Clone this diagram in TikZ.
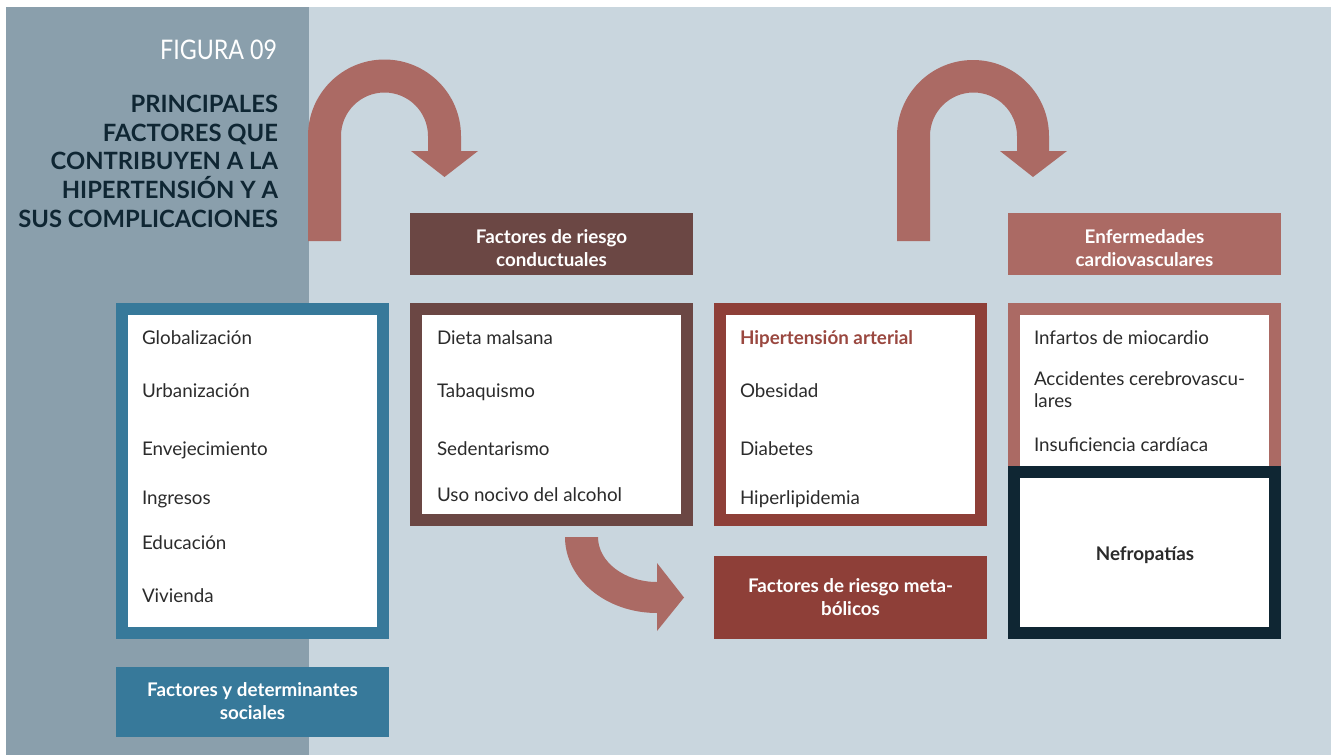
\documentclass[tikz,border=0pt]{standalone}
\usepackage{fontspec}
\setmainfont{Lato}
\usepackage{graphicx}
\definecolor{panel}{HTML}{8A9FAC}
\definecolor{bgl}{HTML}{C9D6DE}
\definecolor{cblue}{HTML}{37799A}
\definecolor{cbrown}{HTML}{6B4744}
\definecolor{cred}{HTML}{8E3F38}
\definecolor{cpink}{HTML}{AB6A64}
\definecolor{cdark}{HTML}{0F2633}
\definecolor{ctext}{HTML}{2B2B2B}
\definecolor{chyp}{HTML}{9A4840}
\begin{document}
\begin{tikzpicture}[x=1pt,y=-1pt,
  every node/.style={inner sep=0pt, outer sep=0pt},
  frame/.style={draw=#1, line width=12pt, fill=white, minimum width=261pt, anchor=north west},
  labelbox/.style={fill=#1, anchor=north west, minimum width=273pt},
  labeltext/.style={text=white, align=center, font=\fontsize{18.8}{23}\selectfont\bfseries},
  item/.style={anchor=west, text=ctext, font=\fontsize{18.8}{22}\selectfont, align=left, text height=12pt, text depth=3pt},
  bigarrow/.style={fill=cpink, draw=none}]
\useasboundingbox (0,0) rectangle (1331,755);
% backgrounds
\fill[white] (0,0) rectangle (1331,755);
\fill[panel] (6,7) rectangle (309,755);
\fill[bgl] (309,7) rectangle (1331,755);

% title
\node[anchor=north east, text=white] (fig) at (277,40)
  {\scalebox{0.86}[1]{\fontsize{27}{27}\selectfont FIGURA 09}};
\node[anchor=north east, align=right, text=cdark, font=\fontsize{23.8}{28.7}\selectfont\bfseries] (title) at (278,95)
  {PRINCIPALES\\FACTORES QUE\\CONTRIBUYEN A LA\\HIPERTENSIÓN Y A\\SUS COMPLICACIONES};

% arrows
\path[bigarrow] (308,241) -- (308,136) arc[start angle=180, end angle=0, radius=76.5pt]
  -- (461,151) -- (478,151) -- (444.5,177) -- (411,151) -- (428,151) -- (428,136)
  arc[start angle=0, end angle=180, radius=43.5pt] -- (341,241) -- cycle;
\path[bigarrow] (897,241) -- (897,136) arc[start angle=180, end angle=0, radius=76pt]
  -- (1049,151) -- (1067,151) -- (1033,177) -- (1000,151) -- (1017,151) -- (1017,136)
  arc[start angle=0, end angle=180, radius=43.5pt] -- (930,241) -- cycle;
\path[bigarrow] (565,537) arc[start angle=180, end angle=270, x radius=92pt, y radius=76pt]
  -- (657,631) -- (684,597.5) -- (657,563) -- (657,582)
  arc[start angle=270, end angle=180, x radius=59pt, y radius=45pt] -- cycle;

% frames
\node[frame=cblue, minimum height=324pt] (soc) at (122,309) {};
\node[frame=cbrown, minimum width=271pt, minimum height=211pt] (beh) at (416,309) {};
\node[frame=cred, minimum height=211pt] (met) at (720,309) {};
\node[frame=cpink, minimum height=163pt] (cvd) at (1014,309) {};
\node[frame=cdark, minimum height=161pt] (nef) at (1014,472) {};

% labels
\node[labelbox=cblue, minimum height=70pt] (socl) at (116,667) {};
\node[labeltext] (soclt) at ([yshift=1pt]socl.center) {Factores y determinantes\\sociales};
\node[labelbox=cbrown, minimum width=283pt, minimum height=62pt] (behl) at (410,213) {};
\node[labeltext] (behlt) at ([yshift=-4pt]behl.center) {Factores de riesgo\\conductuales};
\node[labelbox=cred, minimum height=83pt] (metl) at (714,556) {};
\node[labeltext] (metlt) at ([yshift=0pt]metl.center) {Factores de riesgo meta-\\bólicos};
\node[labelbox=cpink, minimum height=62pt] (cvdl) at (1008,213) {};
\node[labeltext] (cvdlt) at ([yshift=-4pt]cvdl.center) {Enfermedades\\cardiovasculares};

% social items
\node[item] (s1) at (142,340) {Globalización};
\node[item] (s2) at (142,393) {Urbanización};
\node[item] (s3) at (142,451) {Envejecimiento};
\node[item] (s4) at (142,500) {Ingresos};
\node[item] (s5) at (142,545) {Educación};
\node[item] (s6) at (142,598) {Vivienda};
% behaviour items
\node[item] (b1) at (437,340) {Dieta malsana};
\node[item] (b2) at (437,393) {Tabaquismo};
\node[item] (b3) at (437,451) {Sedentarismo};
\node[item] (b4) at (437,497) {Uso nocivo del alcohol};
% metabolic items
\node[item, text=chyp, font=\fontsize{18.8}{22}\selectfont\bfseries] (m1) at (740,340) {Hipertensión arterial};
\node[item] (m2) at (740,393) {Obesidad};
\node[item] (m3) at (740,451) {Diabetes};
\node[item] (m4) at (740,500) {Hiperlipidemia};
% cvd items
\node[item] (c1) at (1034,340) {Infartos de miocardio};
\node[anchor=north west, text=ctext, font=\fontsize{18.8}{22}\selectfont, align=left] (c2) at (1034,372) {Accidentes cerebrovascu-\\lares};
\node[item] (c3) at (1034,447) {Insuficiencia cardíaca};
\node[text=ctext, font=\fontsize{18.8}{22}\selectfont\bfseries] (n1) at (1145,555) {Nefropatías};
\end{tikzpicture}
\end{document}
